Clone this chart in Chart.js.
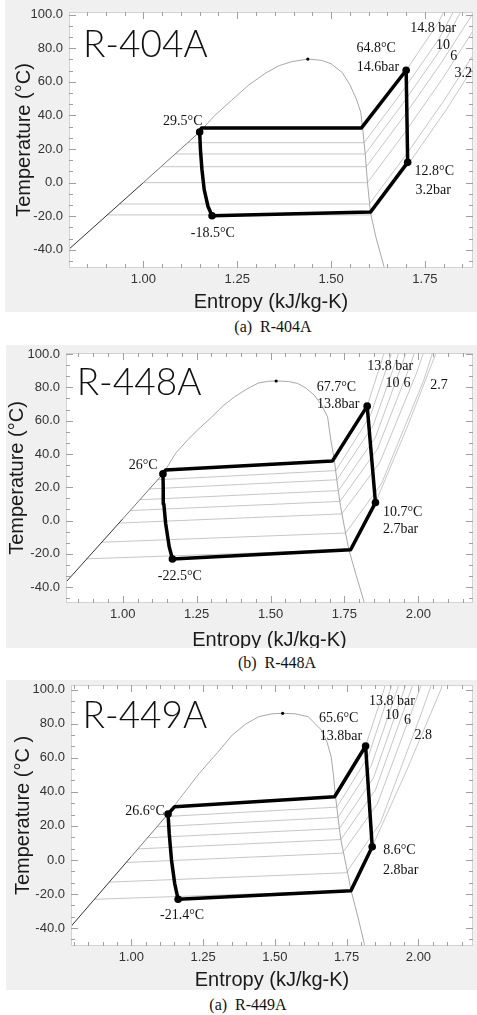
<!DOCTYPE html>
<html>
<head>
<meta charset="utf-8">
<script src="https://cdn.jsdelivr.net/npm/chart.js@4.4.1/dist/chart.umd.min.js"></script>
<style>
  body { margin: 0; background: #fff; width: 477px; height: 1015px; overflow: hidden; position: relative; }
  canvas.panel { position: absolute; background: #f0f0f0; }
  .cap { position: absolute; font: 16px "Liberation Serif", "Times New Roman", serif; color: #111;
         white-space: pre; transform: translateX(-50%); line-height: 20px; height: 20px; }
</style>
</head>
<body>
<canvas id="c404" class="panel" width="472" height="312" style="left:5px;top:0px"></canvas>
<canvas id="c448" class="panel" width="471" height="303" style="left:6px;top:345px"></canvas>
<canvas id="c449" class="panel" width="471" height="310" style="left:6px;top:680px"></canvas>
<div class="cap" style="left:273px;top:317px">(a)  R-404A</div>
<div class="cap" style="left:277px;top:653px">(b)  R-448A</div>
<div class="cap" style="left:248px;top:995px">(a)  R-449A</div>
<script>
// axis ticks
const tempTicks = [-40, -20, 0, 20, 40, 60, 80, 100];
const entropyTicks404 = [1.00, 1.25, 1.50, 1.75];
const entropyTicks44x = [1.00, 1.25, 1.50, 1.75, 2.00];

// ---- R-404A  (points are [entropy kJ/kg-K, temperature °C])
const name404 = 'R-404A';
const nameAt404 = [0.839, 74.8];
const liquid404 = [[0.80, -40], [1.00, 0], [1.150, 30.2], [1.19, 40], [1.235, 49], [1.28, 58], [1.324, 65], [1.36, 69.5], [1.394, 72], [1.438, 73.6]];
const vapor404 = [[1.438, 73.6], [1.475, 72.8], [1.50, 70.8], [1.53, 65.5], [1.55, 58.3], [1.567, 50], [1.579, 42], [1.584, 32.6], [1.591, 17], [1.597, 0], [1.605, -18], [1.62, -33], [1.641, -50], [1.646, -55]];
const critical404 = [1.438, 73.6];
const cycle404 = [[1.150, 30.2], [1.155, 32.6], [1.581, 32.6], [1.700, 66.9], [1.704, 12.1], [1.605, -17.5], [1.183, -19.7], [1.172, -14], [1.162, -4], [1.156, 8], [1.152, 20], [1.150, 30.2]];
const states404 = [[1.150, 30.2], [1.700, 66.9], [1.704, 12.1], [1.183, -19.7]];
const isobars404 = [
  [[1.163, 32.6], [1.584, 32.6], [1.700, 66.9], [1.784, 94.6], [1.83, 115]],
  [[1.119, 23.8], [1.588, 23.8], [1.688, 53.8], [1.788, 85.8], [1.85, 112]],
  [[1.086, 17.1], [1.591, 17.1], [1.691, 47.1], [1.791, 79.1], [1.87, 112]],
  [[1.048, 9.5], [1.594, 9.5], [1.694, 39.5], [1.794, 71.5], [1.89, 105]],
  [[1.000, 0], [1.597, 0], [1.697, 30], [1.797, 62], [1.90, 98]],
  [[0.937, -12.7], [1.602, -12.7], [1.702, 17.3], [1.802, 49.3], [1.91, 87]],
  [[0.904, -19.2], [1.605, -19.2], [1.705, 10.8], [1.805, 42.8], [1.92, 83]]
];
const notes404 = [
  ['64.8°C', 1.620, 79.9], ['14.6bar', 1.625, 68.6], ['29.5°C', 1.105, 36.7],
  ['12.8°C', 1.775, 6.5], ['3.2bar', 1.772, -4.3], ['-18.5°C', 1.185, -30.1],
  ['14.8 bar', 1.772, 91.9], ['10', 1.798, 81.5], ['6', 1.827, 75.5], ['3.2', 1.852, 65.3]
];

// ---- R-448A
const name448 = 'R-448A';
const nameAt448 = [0.844, 75.3];
const liquid448 = [[0.79, -40.5], [1.00, 1], [1.136, 28], [1.179, 40.4], [1.22, 48.5], [1.257, 55], [1.30, 62], [1.34, 69], [1.38, 74.5], [1.42, 79], [1.458, 82.5], [1.49, 83.6], [1.519, 83.8]];
const vapor448 = [[1.519, 83.8], [1.56, 83.5], [1.592, 82.3], [1.62, 79.5], [1.648, 75.3], [1.672, 69.5], [1.693, 62.3], [1.704, 48.3], [1.715, 37.4], [1.726, 22], [1.737, 8.4], [1.751, -5], [1.765, -17.5], [1.79, -33], [1.816, -48.5], [1.822, -55]];
const critical448 = [1.519, 83.8];
const cycle448 = [[1.136, 28], [1.145, 30.4], [1.709, 35.7], [1.827, 68.7], [1.855, 10.8], [1.771, -17.5], [1.168, -23.1], [1.157, -15.6], [1.145, -1.6], [1.139, 10], [1.137, 20], [1.136, 28]];
const states448 = [[1.136, 28], [1.827, 68.7], [1.855, 10.8], [1.168, -23.1]];
const isobars448 = [
  [[1.147, 30.4], [1.716, 35.7], [1.827, 68.7], [1.885, 101], [1.895, 110]],
  [[1.118, 24.5], [1.721, 30], [1.838, 63], [1.905, 98], [1.925, 110]],
  [[1.090, 19], [1.725, 24.5], [1.847, 57], [1.925, 96], [1.95, 110]],
  [[1.058, 12.5], [1.730, 18], [1.855, 50], [1.945, 94], [1.975, 110]],
  [[1.025, 6], [1.735, 11.5], [1.862, 43], [1.97, 92], [2.005, 110]],
  [[0.987, -1.5], [1.741, 4], [1.870, 35], [1.995, 89], [2.035, 110]],
  [[0.929, -13], [1.754, -7.5], [1.875, 22], [2.02, 85], [2.065, 110]],
  [[0.876, -23], [1.765, -17.5], [1.855, 10.8], [1.96, 55], [2.06, 100.6], [2.075, 110]]
];
const notes448 = [
  ['67.7°C', 1.723, 80.2], ['13.8bar', 1.729, 69.9], ['26°C', 1.069, 33.4],
  ['10.7°C', 1.947, 5.2], ['2.7bar', 1.940, -5], ['-22.5°C', 1.193, -33.5],
  ['13.8 bar', 1.905, 92.7], ['10', 1.913, 82.3], ['6', 1.962, 82.3], ['2.7', 2.070, 81.3]
];

// ---- R-449A
const name449 = 'R-449A';
const nameAt449 = [0.830, 77.3];
const liquid449 = [[0.79, -39], [1.00, 2], [1.128, 27], [1.18, 38.5], [1.237, 50.9], [1.30, 63], [1.352, 73.4], [1.40, 80], [1.444, 84.1], [1.49, 85.8], [1.527, 86.1]];
const vapor449 = [[1.527, 86.1], [1.57, 85.8], [1.616, 84.1], [1.662, 76.3], [1.682, 69], [1.696, 60.6], [1.704, 50], [1.710, 39.1], [1.720, 25], [1.730, 11.7], [1.748, -3], [1.765, -17.6], [1.79, -34], [1.811, -48.9], [1.816, -55]];
const critical449 = [1.527, 86.1];
const cycle449 = [[1.128, 27], [1.151, 31.3], [1.708, 37.1], [1.816, 66.9], [1.839, 7.8], [1.765, -18], [1.163, -23.1], [1.151, -13.7], [1.140, 0], [1.132, 15.6], [1.128, 27]];
const states449 = [[1.128, 27], [1.816, 66.9], [1.839, 7.8], [1.163, -23.1]];
const isobars449 = [
  [[1.150, 31.3], [1.709, 37.1], [1.816, 66.9], [1.88, 100], [1.895, 110]],
  [[1.120, 25.5], [1.716, 31], [1.826, 61], [1.90, 99], [1.92, 110]],
  [[1.090, 19.5], [1.720, 25], [1.835, 55], [1.92, 97], [1.945, 110]],
  [[1.056, 13], [1.725, 18.5], [1.843, 48], [1.94, 95], [1.97, 110]],
  [[1.023, 6.5], [1.730, 12], [1.850, 41], [1.96, 93], [1.995, 110]],
  [[0.982, -1.5], [1.735, 4], [1.857, 33], [1.985, 91], [2.025, 110]],
  [[0.923, -13], [1.749, -7.5], [1.868, 22], [2.01, 86], [2.06, 110]],
  [[0.870, -23.1], [1.765, -18], [1.839, 7.8], [1.96, 53], [2.08, 100.8], [2.09, 110]]
];
const notes449 = [
  ['65.6°C', 1.722, 83.1], ['13.8bar', 1.730, 72.4], ['26.6°C', 1.048, 28.3],
  ['8.6°C', 1.934, 5.4], ['2.8bar', 1.938, -5.9], ['-21.4°C', 1.177, -32.3],
  ['13.8 bar', 1.908, 92.9], ['10', 1.908, 85.1], ['6', 1.962, 82.2], ['2.8', 2.017, 73.4]
];

const SANS = '"Liberation Sans", Arial, sans-serif';
const SERIF = '"Liberation Serif", "Times New Roman", serif';

function pts(arr) {
  return arr.map(p => ({ x: p[0], y: p[1] }));
}

// white plot area, thin frame and inward tick marks on all four sides
const frame = {
  id: 'frame',
  beforeDraw(chart) {
    const { ctx, chartArea: a } = chart;
    ctx.save();
    ctx.fillStyle = '#ffffff';
    ctx.fillRect(a.left, a.top, a.width, a.height);
    ctx.restore();
  },
  afterDatasetsDraw(chart) {
    const { ctx, chartArea: a, scales: { x, y } } = chart;
    ctx.save();
    ctx.lineWidth = 1;
    ctx.strokeStyle = '#d2d2d2';
    ctx.strokeRect(a.left + 0.5, a.top + 0.5, a.width - 1, a.height - 1);
    ctx.strokeStyle = '#a0a0a0';
    ctx.beginPath();
    for (let i = Math.ceil(x.min * 20); i <= Math.floor(x.max * 20); i++) {
      const px = Math.round(x.getPixelForValue(i / 20)) + 0.5;
      const len = i % 5 === 0 ? 7 : 4;
      ctx.moveTo(px, a.bottom); ctx.lineTo(px, a.bottom - len);
      ctx.moveTo(px, a.top); ctx.lineTo(px, a.top + len);
    }
    for (let i = Math.ceil(y.min * 3 / 20); i <= Math.floor(y.max * 3 / 20); i++) {
      const py = Math.round(y.getPixelForValue(i * 20 / 3)) + 0.5;
      const len = i % 3 === 0 ? 7 : 4;
      ctx.moveTo(a.left, py); ctx.lineTo(a.left + len, py);
      ctx.moveTo(a.right, py); ctx.lineTo(a.right - len, py);
    }
    ctx.stroke();
    ctx.restore();
  }
};

function makeChart(p) {
  // chart.js paints higher "order" first, so thin lines get high numbers
  const sets = [];
  p.isobars.forEach(line => {
    sets.push({ data: pts(line), showLine: true, borderColor: '#b8b8b8', borderWidth: 0.8, order: 5 });
  });
  sets.push({
    data: pts(p.liquid), showLine: true, borderColor: '#a8a8a8', borderWidth: 1, order: 4,
    segment: {
      borderColor: c => {
        const t = (c.p0.parsed.y + c.p1.parsed.y) / 2;
        return t < 0 ? '#333333' : (t < 31 ? '#777777' : '#a8a8a8');
      }
    }
  });
  sets.push({ data: pts(p.vapor), showLine: true, borderColor: '#a8a8a8', borderWidth: 1, order: 4 });
  sets.push({ data: pts(p.cycle), showLine: true, borderColor: '#000', borderWidth: 3.5, borderJoinStyle: 'round', order: 2 });
  sets.push({ data: pts(p.states), pointRadius: 3.8, pointBackgroundColor: '#000', pointBorderWidth: 0, order: 1 });
  sets.push({ data: pts([p.critical]), pointRadius: 1.6, pointBackgroundColor: '#000', pointBorderWidth: 0, order: 1 });

  const notes = {
    id: 'notes',
    afterDatasetsDraw(chart) {
      const { ctx, scales: { x, y } } = chart;
      ctx.save();
      ctx.fillStyle = '#111';
      ctx.font = '14px ' + SERIF;
      ctx.textAlign = 'center';
      ctx.textBaseline = 'middle';
      p.notes.forEach(n => ctx.fillText(n[0], x.getPixelForValue(n[1]), y.getPixelForValue(n[2])));
      ctx.font = '300 37px Lato, "Open Sans", sans-serif';
      ctx.textAlign = 'left';
      ctx.textBaseline = 'alphabetic';
      ctx.fillText(p.name, x.getPixelForValue(p.nameAt[0]), y.getPixelForValue(p.nameAt[1]));
      ctx.restore();
    }
  };

  return new Chart(document.getElementById(p.id), {
    type: 'scatter',
    data: { datasets: sets },
    options: {
      responsive: false,
      animation: false,
      events: [],
      devicePixelRatio: 1,
      layout: { padding: p.pad },
      elements: { point: { radius: 0 }, line: { tension: 0 } },
      plugins: { legend: { display: false }, tooltip: { enabled: false } },
      scales: {
        x: {
          type: 'linear', min: p.xMin, max: p.xMax,
          afterBuildTicks: s => { s.ticks = p.xTicks.map(v => ({ value: v })); },
          afterFit: s => { s.height = p.xH; s.paddingLeft = 0; s.paddingRight = 0; },
          grid: { display: false, drawTicks: false },
          border: { display: false },
          ticks: { callback: v => Number(v).toFixed(2), color: '#333', padding: 4, maxRotation: 0, autoSkip: false,
                   font: { family: SANS, size: 13 } },
          title: { display: true, text: 'Entropy (kJ/kg-K)', color: '#1a1a1a', padding: 0,
                   font: { family: SANS, size: 20, lineHeight: p.xLH } }
        },
        y: {
          type: 'linear', min: p.yMin, max: p.yMax,
          afterBuildTicks: s => { s.ticks = tempTicks.map(v => ({ value: v })); },
          afterFit: s => { s.width = p.yW; s.paddingTop = 0; s.paddingBottom = 0; },
          grid: { display: false, drawTicks: false },
          border: { display: false },
          ticks: { callback: v => Number(v).toFixed(1), color: '#333', padding: 6, autoSkip: false,
                   font: { family: SANS, size: 13, lineHeight: 1 } },
          title: { display: true, text: p.yTitle, color: '#1a1a1a', padding: 0,
                   font: { family: SANS, size: 20, lineHeight: 1 } }
        }
      }
    },
    plugins: [frame, notes]
  });
}

makeChart({
  id: 'c404', name: name404, nameAt: nameAt404, yTitle: 'Temperature (°C)',
  liquid: liquid404, vapor: vapor404, critical: critical404, cycle: cycle404, states: states404,
  isobars: isobars404, notes: notes404, xTicks: entropyTicks404,
  xMin: 0.802, xMax: 1.878, yMin: -50.8, yMax: 101.6,
  pad: { top: 12, left: 9, right: 0, bottom: 0 }, yW: 55, xH: 44, xLH: 1
});
makeChart({
  id: 'c448', name: name448, nameAt: nameAt448, yTitle: 'Temperature (°C)',
  liquid: liquid448, vapor: vapor448, critical: critical448, cycle: cycle448, states: states448,
  isobars: isobars448, notes: notes448, xTicks: entropyTicks44x,
  xMin: 0.808, xMax: 2.185, yMin: -49.5, yMax: 100.6,
  pad: { top: 8, left: 1.5, right: 0, bottom: 0 }, yW: 58.5, xH: 45, xLH: 0.8
});
makeChart({
  id: 'c449', name: name449, nameAt: nameAt449, yTitle: 'Temperature (°C )',
  liquid: liquid449, vapor: vapor449, critical: critical449, cycle: cycle449, states: states449,
  isobars: isobars449, notes: notes449, xTicks: entropyTicks44x,
  xMin: 0.79, xMax: 2.19, yMin: -50.5, yMax: 102.7,
  pad: { top: 5, left: 7.3, right: 0, bottom: 0 }, yW: 57.7, xH: 44, xLH: 0.93
});
</script>
</body>
</html>
